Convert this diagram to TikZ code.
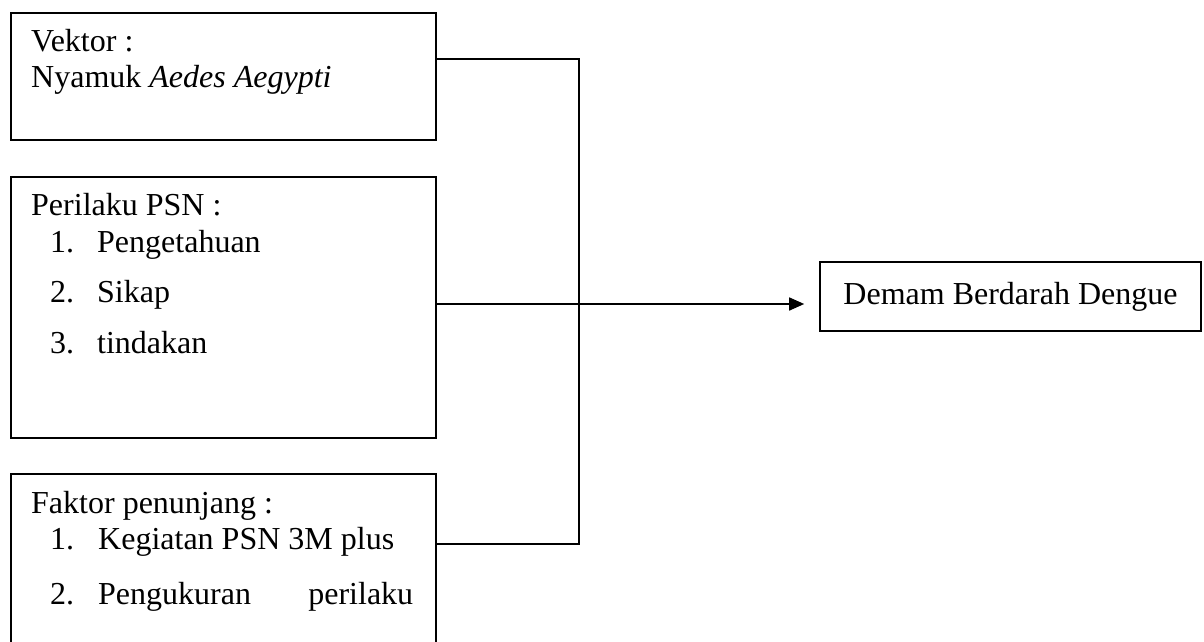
\documentclass[tikz,border=0pt]{standalone}
\usepackage{fontspec}
\setmainfont{Liberation Serif}
\usetikzlibrary{arrows.meta}
\begin{document}
\begin{tikzpicture}[x=1pt,y=-1pt,
  box/.style={draw, line width=1.6pt, inner sep=0pt, anchor=north west},
  txt/.style={anchor=base west, inner sep=0pt, font=\fontsize{32}{38}\selectfont},
  link/.style={line width=1.6pt}]
\clip (0,0) rectangle (1204,642);
% boxes
\node[box, minimum width=425pt, minimum height=127pt] (b1) at (10,12) {};
\node[box, minimum width=425pt, minimum height=261pt] (b2) at (10,176) {};
\node[box, minimum width=425pt, minimum height=260pt] (b3) at (10,473) {};
\node[draw, line width=1.6pt, inner sep=0pt, minimum width=381pt, minimum height=69pt,
      font=\fontsize{32}{38}\selectfont] (dbd) at (1010.5,296.5) {Demam Berdarah Dengue};
% texts box 1
\node[txt] (t1) at (31,52) {Vektor :};
\node[txt] (t2) at (31,88) {Nyamuk \textit{Aedes Aegypti}};
% texts box 2
\node[txt] (t3) at (31,215) {Perilaku PSN :};
\node[txt] (n1) at (50,252) {1.};
\node[txt] (p1) at (97,252) {Pengetahuan};
\node[txt] (n2) at (50,302) {2.};
\node[txt] (p2) at (97,302) {Sikap};
\node[txt] (n3) at (50,353) {3.};
\node[txt] (p3) at (97,353) {tindakan};
% texts box 3
\node[txt] (t4) at (31,513) {Faktor penunjang :};
\node[txt] (n4) at (50,549) {1.};
\node[txt] (f1) at (98,549) {Kegiatan PSN 3M plus};
\node[txt] (n5) at (50,604) {2.};
\node[txt] (f2) at (98,604) {\hbox to 315pt{Pengukuran\hfill perilaku}};
% connectors
\coordinate (jt) at (579,59);
\coordinate (jb) at (579,544);
\coordinate (jm) at (579,304);
\draw[link] (b1.east |- jt) -- (jt) -- (jb) -- (b3.east |- jb);
\draw[link, -{Triangle[length=15pt,width=13pt]}] (b2.east |- jm) -- ([xshift=-15pt]dbd.west |- jm);
\end{tikzpicture}
\end{document}
